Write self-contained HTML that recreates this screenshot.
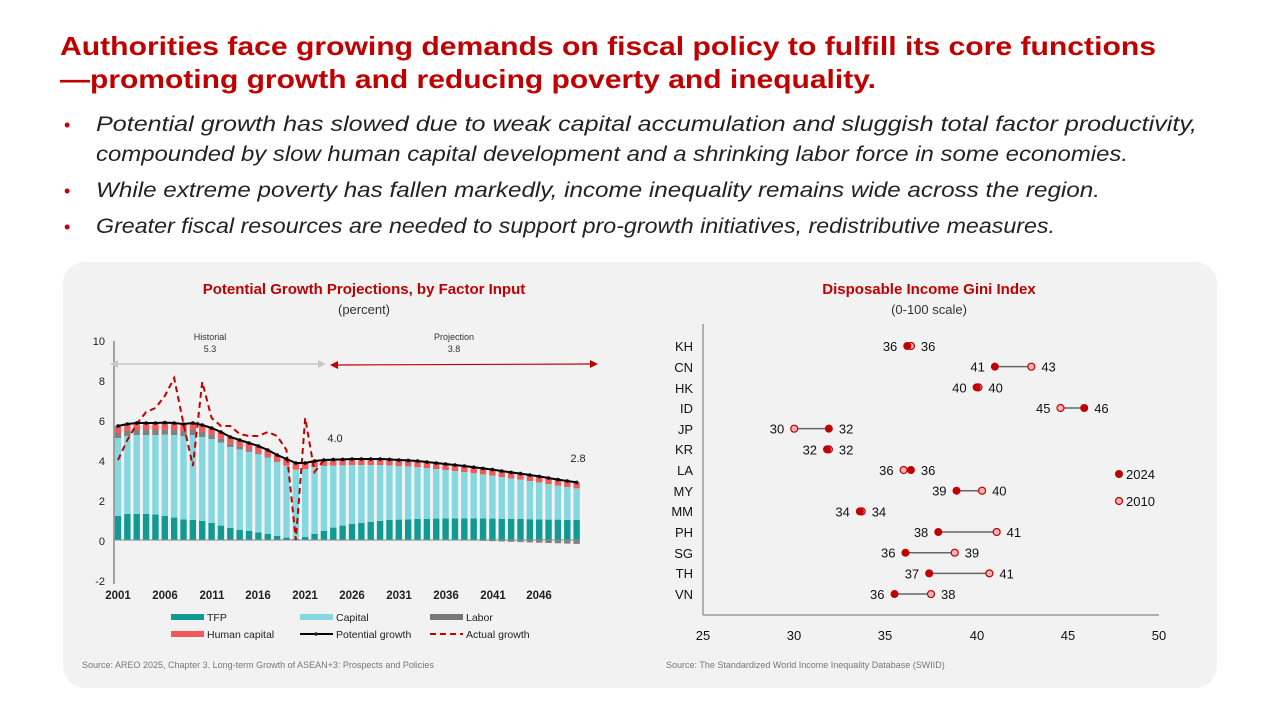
<!DOCTYPE html>
<html><head><meta charset="utf-8"><style>
html,body{margin:0;padding:0;background:#fff;}
svg{display:block;font-family:"Liberation Sans",sans-serif;}
</style></head><body>
<svg id="s" width="1280" height="720" viewBox="0 0 1280 720" xmlns="http://www.w3.org/2000/svg">
<rect width="1280" height="720" fill="#fff"/>
<g fill="#c00000" font-weight="bold" font-size="26">
<text x="60" y="55" textLength="1096" lengthAdjust="spacingAndGlyphs">Authorities face growing demands on fiscal policy to fulfill its core functions</text>
<text x="60" y="88" textLength="816" lengthAdjust="spacingAndGlyphs">—promoting growth and reducing poverty and inequality.</text>
</g>
<g fill="#c00000" font-size="18"><text x="64" y="131">•</text><text x="64" y="197">•</text><text x="64" y="233">•</text></g>
<g fill="#222" font-size="21" font-style="italic">
<text x="96" y="131" textLength="1101" lengthAdjust="spacingAndGlyphs">Potential growth has slowed due to weak capital accumulation and sluggish total factor productivity,</text>
<text x="96" y="161" textLength="1032" lengthAdjust="spacingAndGlyphs">compounded by slow human capital development and a shrinking labor force in some economies.</text>
<text x="96" y="197" textLength="1004" lengthAdjust="spacingAndGlyphs">While extreme poverty has fallen markedly, income inequality remains wide across the region.</text>
<text x="96" y="233" textLength="959" lengthAdjust="spacingAndGlyphs">Greater fiscal resources are needed to support pro-growth initiatives, redistributive measures.</text>
</g>
<rect x="63" y="262" width="1154" height="426" rx="22" fill="#f2f2f2"/>
<text x="364" y="294" text-anchor="middle" fill="#c00000" font-weight="bold" font-size="15">Potential Growth Projections, by Factor Input</text>
<text x="364" y="314" text-anchor="middle" fill="#333" font-size="13">(percent)</text>
<text x="929" y="294" text-anchor="middle" fill="#c00000" font-weight="bold" font-size="15">Disposable Income Gini Index</text>
<text x="929" y="314" text-anchor="middle" fill="#333" font-size="13">(0-100 scale)</text>
<g font-size="9" fill="#777"><text x="82" y="668">Source: AREO 2025, Chapter 3. Long-term Growth of ASEAN+3: Prospects and Policies</text>
<text x="666" y="668">Source: The Standardized World Income Inequality Database (SWIID)</text></g>
<g id="L"></g>
<line x1="114" y1="341" x2="114" y2="584" stroke="#888" stroke-width="1.5"/>
<g font-size="11" fill="#222" text-anchor="end">
<text x="105" y="345">10</text><text x="105" y="385">8</text><text x="105" y="425">6</text><text x="105" y="465">4</text><text x="105" y="505">2</text><text x="105" y="545">0</text><text x="105" y="585">-2</text></g>
<g font-size="11.5" fill="#222" text-anchor="middle" font-weight="bold">
<text x="118" y="599">2001</text><text x="165" y="599">2006</text><text x="212" y="599">2011</text><text x="258" y="599">2016</text><text x="305" y="599">2021</text><text x="352" y="599">2026</text><text x="399" y="599">2031</text><text x="446" y="599">2036</text><text x="493" y="599">2041</text><text x="539" y="599">2046</text></g>
<g font-size="9" fill="#333" text-anchor="middle"><text x="210" y="340">Historial</text><text x="210" y="352">5.3</text><text x="454" y="340">Projection</text><text x="454" y="352">3.8</text></g>
<line x1="116" y1="364" x2="320" y2="364" stroke="#c8c8c8" stroke-width="1.5"/>
<polygon points="110,364 118,360 118,368" fill="#c8c8c8"/><polygon points="326,364 318,360 318,368" fill="#c8c8c8"/>
<line x1="336" y1="365" x2="592" y2="364" stroke="#c00000" stroke-width="1.2"/>
<polygon points="330,365 338,361 338,369" fill="#c00000"/><polygon points="598,364 590,360 590,368" fill="#c00000"/>
<text x="335" y="442" font-size="11" text-anchor="middle" fill="#222">4.0</text>
<text x="578" y="462" font-size="11" text-anchor="middle" fill="#222">2.8</text>
<g font-size="10.5" fill="#222">
<rect x="171" y="614" width="33" height="6" fill="#119a94"/><text x="207" y="621">TFP</text>
<rect x="300" y="614" width="33" height="6" fill="#86d8e0"/><text x="336" y="621">Capital</text>
<rect x="430" y="614" width="33" height="6" fill="#777"/><text x="466" y="621">Labor</text>
<rect x="171" y="631" width="33" height="6" fill="#f25a5a"/><text x="207" y="638">Human capital</text>
<line x1="300" y1="634" x2="333" y2="634" stroke="#000" stroke-width="2"/><circle cx="316" cy="634" r="1.8"/><text x="336" y="638">Potential growth</text>
<line x1="430" y1="634" x2="463" y2="634" stroke="#c00000" stroke-width="2" stroke-dasharray="6,4"/><text x="466" y="638">Actual growth</text>
</g>
<line x1="703" y1="324" x2="703" y2="615" stroke="#999" stroke-width="1.5"/>
<line x1="703" y1="615" x2="1159" y2="615" stroke="#999" stroke-width="1.5"/>
<g font-size="13" fill="#111" text-anchor="middle">
<text x="703" y="640">25</text><text x="794" y="640">30</text><text x="885" y="640">35</text><text x="977" y="640">40</text><text x="1068" y="640">45</text><text x="1159" y="640">50</text></g>
<g font-size="13" fill="#111" text-anchor="end">
<text x="693" y="351">KH</text><text x="693" y="372">CN</text><text x="693" y="393">HK</text><text x="693" y="413">ID</text><text x="693" y="434">JP</text><text x="693" y="454">KR</text><text x="693" y="475">LA</text><text x="693" y="496">MY</text><text x="693" y="516">MM</text><text x="693" y="537">PH</text><text x="693" y="558">SG</text><text x="693" y="578">TH</text><text x="693" y="599">VN</text></g>
<g id="R" font-size="13" fill="#111"></g>
<circle cx="1119" cy="474" r="4" fill="#c00000"/><text x="1126" y="479" font-size="13" fill="#111">2024</text>
<circle cx="1119" cy="501" r="3.5" fill="#f8b4b4" stroke="#c00000" stroke-width="1.2"/><text x="1126" y="506" font-size="13" fill="#111">2010</text>
<script>
(function(){
var NS="http://www.w3.org/2000/svg";
function el(p,t,a){var e=document.createElementNS(NS,t);for(var k in a)e.setAttribute(k,a[k]);p.appendChild(e);return e;}
var L=document.getElementById("L");
var X=function(yr){return 118+(yr-2001)*9.36;},Y=function(v){return 540-v*20;};
var pot=[5.7,5.8,5.85,5.85,5.85,5.87,5.85,5.8,5.85,5.75,5.6,5.4,5.15,5.0,4.85,4.7,4.5,4.25,4.05,3.85,3.85,3.95,4.0,4.02,4.03,4.05,4.05,4.05,4.05,4.03,4.0,3.98,3.95,3.9,3.85,3.8,3.75,3.7,3.64,3.58,3.52,3.45,3.38,3.32,3.25,3.18,3.1,3.02,2.95,2.88];
var tfp=[1.2,1.3,1.3,1.3,1.28,1.2,1.12,1.03,1.0,0.95,0.85,0.72,0.6,0.5,0.45,0.38,0.3,0.2,0.12,0.05,0.15,0.3,0.45,0.62,0.72,0.8,0.85,0.9,0.95,1.0,1.02,1.03,1.05,1.06,1.07,1.08,1.08,1.08,1.08,1.08,1.07,1.06,1.05,1.05,1.04,1.03,1.02,1.02,1.0,1.0];
for(var i=0;i<50;i++){
 var yr=2001+i,bx=X(yr)-3.2,w=6.4,p=pot[i],t=tfp[i];
 var lab=i<10?0.25:(i<19?0.25-(i-9)*0.028:(i<36?0:-(i-36)*0.015));
 var hc=i<10?0.35:(i<20?0.33:0.3);
 var cap=p-t-Math.max(lab,0)-hc;
 el(L,"rect",{x:bx,y:Y(t),width:w,height:t*20,fill:"#119a94"});
 el(L,"rect",{x:bx,y:Y(t+cap),width:w,height:cap*20,fill:"#86d8e0"});
 var tp=t+cap;
 if(lab>0){el(L,"rect",{x:bx,y:Y(tp+lab),width:w,height:lab*20,fill:"#808080"});tp+=lab;}
 else if(lab<0){el(L,"rect",{x:bx,y:540,width:w,height:-lab*20,fill:"#808080"});}
 el(L,"rect",{x:bx,y:Y(tp+hc),width:w,height:hc*20,fill:"#f25a5a"});
}
el(L,"line",{x1:114,y1:540,x2:580,y2:540,stroke:"#888","stroke-width":1});
var act=[4.0,5.0,5.8,6.4,6.6,7.2,8.1,5.8,3.7,7.9,6.1,5.7,5.7,5.3,5.2,5.2,5.4,5.2,4.5,0,6.1,3.4,4.0];
el(L,"polyline",{points:act.map(function(v,i){return X(2001+i)+","+Y(v)}).join(" "),fill:"none",stroke:"#c00000","stroke-width":2,"stroke-dasharray":"6,4"});
el(L,"polyline",{points:pot.map(function(v,i){return X(2001+i)+","+Y(v)}).join(" "),fill:"none",stroke:"#000","stroke-width":2});
pot.forEach(function(v,i){el(L,"circle",{cx:X(2001+i),cy:Y(v),r:1.8,fill:"#000"});});
var R=document.getElementById("R");
var GX=function(v){return 703+(v-25)*18.24;};
var d=[[36.2,36.4,"36","36"],[41,43,"41","43"],[40.0,40.1,"40","40"],[45.9,44.6,"45","46"],[31.9,30,"30","32"],[31.8,31.9,"32","32"],[36.4,36.0,"36","36"],[38.9,40.3,"39","40"],[33.6,33.7,"34","34"],[37.9,41.1,"38","41"],[36.1,38.8,"36","39"],[37.4,40.7,"37","41"],[35.5,37.5,"36","38"]];
d.forEach(function(r,i){
 var yy=346+i*20.67,a=GX(r[0]),b=GX(r[1]),lo=Math.min(a,b),hi=Math.max(a,b);
 el(R,"line",{x1:a,y1:yy,x2:b,y2:yy,stroke:"#666","stroke-width":1.5});
 el(R,"circle",{cx:b,cy:yy,r:3.5,fill:"#f8b4b4",stroke:"#c00000","stroke-width":1.2});
 el(R,"circle",{cx:a,cy:yy,r:4,fill:"#c00000"});
 var t1=el(R,"text",{x:lo-10,y:yy+5,"text-anchor":"end"});t1.textContent=r[2];
 var t2=el(R,"text",{x:hi+10,y:yy+5});t2.textContent=r[3];
});
})();
</script>
</svg>
</body></html>
